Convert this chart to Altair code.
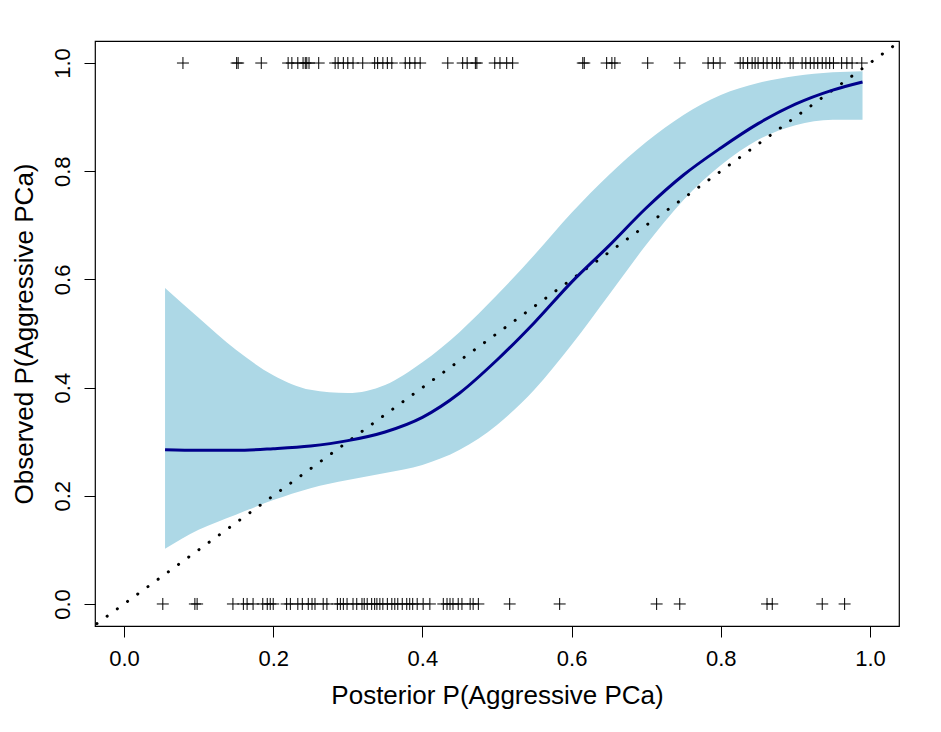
import altair as alt
import pandas as pd

# Rug observations (posterior probability) for observed outcome 1 and 0
rug_top = [0.079, 0.151, 0.153, 0.184, 0.220, 0.225, 0.233, 0.240, 0.243, 0.245, 0.248,
           0.261, 0.283, 0.287, 0.294, 0.300, 0.307, 0.320, 0.336, 0.340, 0.347, 0.353,
           0.359, 0.377, 0.383, 0.390, 0.397, 0.434, 0.454, 0.460, 0.471, 0.473, 0.497,
           0.504, 0.513, 0.521, 0.615, 0.617, 0.647, 0.654, 0.658, 0.702, 0.745, 0.783,
           0.790, 0.799, 0.826, 0.830, 0.836, 0.842, 0.846, 0.850, 0.857, 0.862, 0.869,
           0.875, 0.879, 0.893, 0.897, 0.909, 0.914, 0.920, 0.925, 0.930, 0.936, 0.941,
           0.946, 0.951, 0.962, 0.969, 0.976, 0.989]
rug_bottom = [0.052, 0.095, 0.098, 0.146, 0.160, 0.165, 0.173, 0.186, 0.192, 0.196, 0.200,
              0.218, 0.223, 0.233, 0.239, 0.247, 0.252, 0.256, 0.267, 0.272, 0.286, 0.290,
              0.294, 0.299, 0.307, 0.312, 0.319, 0.322, 0.326, 0.332, 0.336, 0.339, 0.343,
              0.347, 0.353, 0.359, 0.363, 0.367, 0.373, 0.379, 0.383, 0.387, 0.393, 0.401,
              0.410, 0.428, 0.433, 0.437, 0.441, 0.448, 0.453, 0.464, 0.468, 0.475, 0.517,
              0.584, 0.714, 0.745, 0.862, 0.869, 0.936, 0.966]

# Smoothed calibration curve and confidence band
curve_x = [0.055, 0.10, 0.15, 0.20, 0.25, 0.30, 0.35, 0.40, 0.45, 0.50, 0.55, 0.60,
           0.65, 0.70, 0.75, 0.80, 0.85, 0.90, 0.95, 0.99]
curve_y = [0.285, 0.284, 0.284, 0.287, 0.292, 0.302, 0.318, 0.345, 0.390, 0.451, 0.520,
           0.595, 0.662, 0.732, 0.793, 0.843, 0.888, 0.924, 0.950, 0.965]
band_hi = [0.584, 0.529, 0.470, 0.423, 0.396, 0.390, 0.405, 0.447, 0.503, 0.571, 0.645,
           0.723, 0.793, 0.854, 0.904, 0.941, 0.963, 0.976, 0.983, 0.985]
band_lo = [0.102, 0.137, 0.165, 0.192, 0.214, 0.229, 0.242, 0.257, 0.285, 0.331, 0.396,
           0.479, 0.571, 0.664, 0.747, 0.811, 0.858, 0.885, 0.895, 0.895]

diag = [-0.05, 1.05]
ticks = [0.0, 0.2, 0.4, 0.6, 0.8, 1.0]

xdom = [-0.0389, 1.0389]
ydom = [-0.0407, 1.0407]

rug_df = pd.DataFrame({
    "x": rug_top + rug_bottom,
    "y": [1.0] * len(rug_top) + [0.0] * len(rug_bottom),
})
curve_df = pd.DataFrame({"x": curve_x, "y": curve_y, "lo": band_lo, "hi": band_hi})
diag_df = pd.DataFrame({"x": diag, "y": diag})

xs = alt.Scale(domain=xdom, nice=False, zero=False)
ys = alt.Scale(domain=ydom, nice=False, zero=False)

xax = alt.Axis(values=ticks, format=".1f", title="Posterior P(Aggressive PCa)",
               grid=False, domain=False, tickSize=11, tickColor="black",
               labelPadding=11, titlePadding=13)
yax = alt.Axis(values=ticks, format=".1f", title="Observed P(Aggressive PCa)",
               grid=False, domain=False, tickSize=11, tickColor="black",
               labelAngle=270, labelAlign="center", labelBaseline="bottom",
               labelPadding=10, titlePadding=14)

band = alt.Chart(curve_df).mark_area(color="#ADD8E6", opacity=1, interpolate="monotone").encode(
    x=alt.X("x:Q", scale=xs, axis=xax),
    y=alt.Y("lo:Q", scale=ys, axis=yax),
    y2="hi:Q",
)
line = alt.Chart(curve_df).mark_line(color="#00008B", strokeWidth=3, interpolate="monotone").encode(
    x=alt.X("x:Q", scale=xs),
    y=alt.Y("y:Q", scale=ys),
)
dline = alt.Chart(diag_df).mark_line(color="black", strokeWidth=3, strokeDash=[0.1, 12.5],
                                     strokeCap="round", clip=True).encode(
    x=alt.X("x:Q", scale=xs),
    y=alt.Y("y:Q", scale=ys),
)
rug = alt.Chart(rug_df).mark_point(shape="M-1,0L1,0M0,-1L0,1", size=144, color="black",
                                   strokeWidth=1, filled=False, opacity=1).encode(
    x=alt.X("x:Q", scale=xs),
    y=alt.Y("y:Q", scale=ys),
)

chart = alt.layer(band, dline, line, rug).properties(
    width=804, height=585,
    autosize=alt.AutoSizeParams(type="none"),
    padding={"left": 87, "top": 33, "right": 30, "bottom": 90},
    background="white",
).configure_view(
    stroke="black", strokeWidth=1.2
).configure_axis(
    labelFont="Liberation Sans", titleFont="Liberation Sans",
    labelFontSize=22, titleFontSize=26, titleFontWeight="normal",
    labelColor="black", titleColor="black",
)

chart.save("out.html", embed_options={"renderer": "svg", "actions": False})
